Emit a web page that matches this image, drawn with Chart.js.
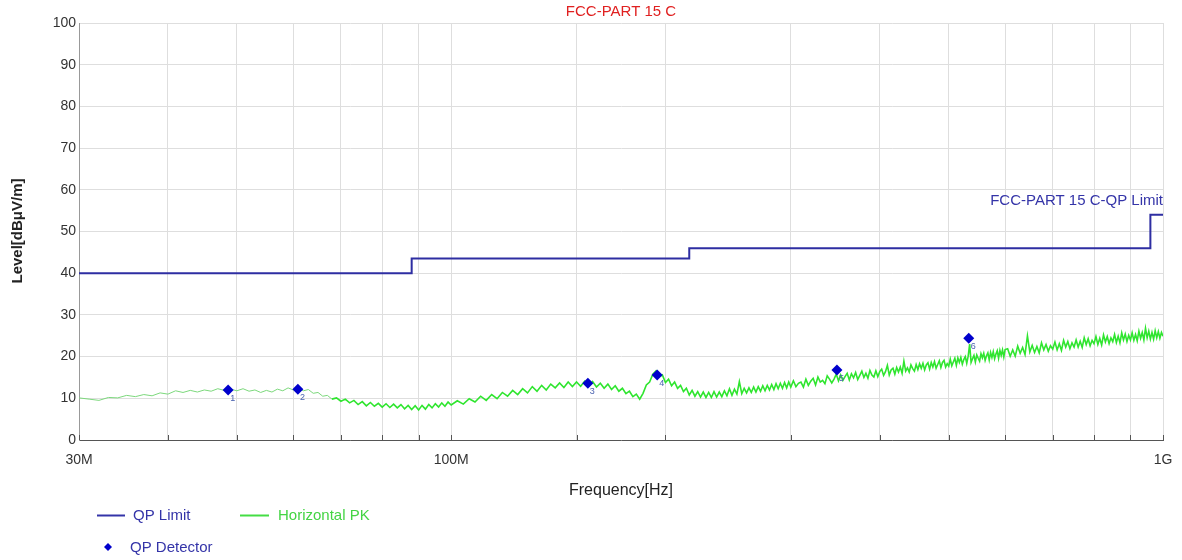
<!DOCTYPE html>
<html>
<head>
<meta charset="utf-8">
<title>FCC-PART 15 C</title>
<script src="https://cdn.jsdelivr.net/npm/chart.js@4.4.1/dist/chart.umd.min.js"></script>
<style>
  html, body { margin: 0; padding: 0; background: #fff; }
  #wrap { width: 1182px; height: 560px; }
</style>
</head>
<body>
<div id="wrap"><canvas id="emiChart" width="1182" height="560"></canvas></div>
<script>
// sweep frequencies in MHz
const freqMHz = [
  30, 31, 32, 33, 34, 35, 36, 37, 38, 39, 40, 41, 42, 43, 44, 45, 46, 47, 48, 49,
  50, 51, 52, 53, 54, 55, 56, 57, 58, 59, 60, 61, 62, 63, 64, 65, 66, 67, 68, 69,
  70, 71, 72, 73, 74, 75, 76, 77, 78, 79, 80, 81, 82, 83, 84, 85, 86, 87, 88, 89,
  90, 91, 92, 93, 94, 95, 96, 97, 98, 99, 100,
  102, 104, 106, 108, 110, 112, 114, 116, 118, 120, 122, 124, 126, 128, 130, 132, 134, 136, 138, 140,
  142, 144, 146, 148, 150, 152, 154, 156, 158, 160, 162, 164, 166, 168, 170, 172, 174, 176, 178, 180,
  182, 184, 186, 188, 190, 192, 194, 196, 198, 200, 202, 204, 206, 208, 210, 212, 214, 216, 218, 220,
  222, 224, 226, 228, 230, 232, 234, 236, 238, 240, 242, 244, 246, 248, 250, 252, 254, 256, 258, 260,
  262, 264, 266, 268, 270, 272, 274, 276, 278, 280, 282, 284, 286, 288, 290, 292, 294, 296, 298, 300,
  302.5, 305, 307.5, 310, 312.5, 315, 317.5, 320, 322.5, 325, 327.5, 330, 332.5, 335, 337.5, 340, 342.5, 345, 347.5, 350,
  352.5, 355, 357.5, 360, 362.5, 365, 367.5, 370, 372.5, 375, 377.5, 380, 382.5, 385, 387.5, 390, 392.5, 395, 397.5, 400,
  402.5, 405, 407.5, 410, 412.5, 415, 417.5, 420, 422.5, 425, 427.5, 430, 432.5, 435, 437.5, 440, 442.5, 445, 447.5, 450,
  452.5, 455, 457.5, 460, 462.5, 465, 467.5, 470, 472.5, 475, 477.5, 480, 482.5, 485, 487.5, 490, 492.5, 495, 497.5, 500,
  502.5, 505, 507.5, 510, 512.5, 515, 517.5, 520, 522.5, 525, 527.5, 530, 532.5, 535, 537.5, 540, 542.5, 545, 547.5, 550,
  552.5, 555, 557.5, 560, 562.5, 565, 567.5, 570, 572.5, 575, 577.5, 580, 582.5, 585, 587.5, 590, 592.5, 595, 597.5, 600,
  605, 610, 615, 620, 625, 630, 635, 640, 645, 650, 655, 660, 665, 670, 675, 680, 685, 690, 695, 700,
  705, 710, 715, 720, 725, 730, 735, 740, 745, 750, 755, 760, 765, 770, 775, 780, 785, 790, 795, 800,
  805, 810, 815, 820, 825, 830, 835, 840, 845, 850, 855, 860, 865, 870, 875, 880, 885, 890, 895, 900,
  905, 910, 915, 920, 925, 930, 935, 940, 945, 950, 955, 960, 965, 970, 975, 980, 985, 990, 995, 1000
];

// Horizontal PK level, dBuV/m
const pkLevel = [
  10.1, 9.8, 9.5, 10.2, 10.1, 10.7, 10.4, 10.9, 10.6, 11.3, 11.0, 11.8, 11.4, 11.9, 11.5, 12.0, 11.7, 12.3, 11.9, 12.2,
  11.8, 12.3, 11.7, 12.0, 11.4, 11.9, 11.5, 12.2, 11.8, 12.5, 12.0, 12.4, 11.8, 12.1, 11.2, 11.4, 10.5, 10.7, 9.8, 10.1,
  9.3, 9.8, 8.9, 9.5, 8.5, 9.2, 8.2, 9.0, 8.1, 8.8, 7.9, 8.7, 7.8, 8.6, 7.7, 8.5, 7.5, 8.3, 7.3, 8.2,
  7.2, 8.3, 7.4, 8.5, 7.7, 8.7, 7.9, 8.9, 8.1, 9.1, 8.4,
  9.4, 8.6, 9.9, 9.1, 10.5, 9.5, 10.9, 9.9, 11.4, 10.5, 11.9, 10.9, 12.3, 11.3, 12.8, 11.7, 13.1, 12.0, 13.4, 12.5,
  13.7, 12.6, 13.9, 12.8, 13.9, 12.9, 14.1, 13.0, 14.0, 12.7, 13.6, 12.4, 13.4, 12.1, 13.0, 11.7, 12.4, 11.1, 11.7, 10.4,
  11.0, 9.8, 11.2, 13.2, 13.9, 15.8, 16.6, 15.2, 15.6, 13.8, 14.6, 13.0, 13.9, 12.4, 13.1, 11.6, 12.4, 10.8, 11.9, 10.5,
  11.6, 10.3, 11.5, 10.2, 11.4, 10.2, 11.6, 10.3, 11.5, 10.4, 11.8, 10.6, 12.3, 10.7, 12.2, 11.0, 14.0, 11.1, 12.4, 11.3,
  12.5, 11.4, 12.7, 11.5, 12.8, 11.7, 13.0, 11.8, 13.1, 12.0, 13.3, 12.1, 13.5, 12.3, 13.6, 12.4, 13.8, 12.5, 13.9, 12.7,
  14.2, 12.8, 13.6, 13.9, 12.7, 14.6, 13.1, 14.1, 14.8, 13.2, 15.1, 13.9, 14.3, 13.5, 15.4, 14.6, 13.7, 14.6, 15.8, 14.2,
  15.6, 14.3, 15.2, 16.0, 14.4, 15.9, 14.9, 16.2, 14.5, 15.5, 16.5, 15.0, 16.0, 14.8, 16.7, 15.6, 15.1, 16.6, 15.2, 16.4,
  17.0, 15.5, 16.4, 17.9, 15.6, 16.8, 17.2, 15.8, 17.4, 16.3, 17.5, 16.0, 18.9, 16.5, 17.3, 16.3, 18.0, 17.1, 16.5, 18.1,
  16.9, 18.3, 17.2, 18.4, 16.8, 18.0, 18.5, 17.0, 18.6, 17.5, 18.8, 17.2, 18.1, 19.0, 17.4, 18.6, 19.1, 17.5, 18.3, 17.7,
  19.4, 17.8, 18.7, 19.6, 17.9, 19.7, 18.6, 19.8, 18.2, 19.3, 20.0, 18.4, 20.1, 23.0, 18.6, 19.5, 20.3, 18.7, 20.4, 19.6,
  18.9, 20.7, 19.7, 20.8, 19.1, 20.2, 20.9, 19.2, 21.0, 19.8, 21.2, 19.5, 20.6, 21.4, 19.6, 21.5, 20.3, 21.6, 19.9, 21.7,
  21.9, 20.1, 21.6, 20.1, 22.5, 20.8, 22.2, 20.5, 25.0, 21.1, 22.7, 21.0, 22.4, 20.9, 23.3, 21.6, 22.9, 21.3, 22.6, 21.8,
  23.5, 21.6, 23.1, 21.5, 23.9, 22.3, 23.6, 21.9, 23.3, 22.3, 24.0, 22.3, 23.7, 22.2, 24.5, 22.9, 24.3, 22.6, 23.9, 23.1,
  24.8, 22.9, 24.4, 22.8, 25.2, 23.5, 24.8, 23.1, 24.5, 23.6, 25.3, 23.4, 24.9, 23.3, 25.7, 24.0, 25.4, 23.6, 25.1, 24.0,
  25.7, 23.9, 25.3, 23.8, 26.1, 24.4, 25.8, 24.0, 26.8, 24.5, 26.1, 24.2, 25.8, 24.2, 26.2, 24.5, 26.0, 24.4, 25.8, 24.9
];

// QP limit (step line)
const limitFreq = [30, 88, 88, 216, 216, 960, 960, 1000];
const limitLevel = [40, 40, 43.5, 43.5, 46, 46, 54, 54];

// QP detector readings
const qpFreq = [48.6, 60.9, 155.6, 194.7, 348.3, 533.5];
const qpLevel = [12.0, 12.2, 13.6, 15.6, 16.8, 24.4];
const qpLabels = ['1', '2', '3', '4', '5', '6'];

const xTickLabels = { 30: '30M', 100: '100M', 1000: '1G' };

const FONT = '"Liberation Sans", Arial, sans-serif';

function toPoints(xs, ys) {
    return xs.map((x, i) => ({ x: x, y: ys[i] }));
}

// titles, legend, marker numbers and tick marks
const decorations = {
    id: 'decorations',
    afterDatasetsDraw(chart) {
        const ctx = chart.ctx;
        const area = chart.chartArea;
        const xs = chart.scales.x;
        const ys = chart.scales.y;
        ctx.save();

        // small ticks on the bottom axis, pointing up
        ctx.strokeStyle = '#555';
        ctx.lineWidth = 1;
        xs.ticks.forEach(t => {
            const px = Math.round(xs.getPixelForValue(t.value)) + 0.5;
            ctx.beginPath();
            ctx.moveTo(px, area.bottom);
            ctx.lineTo(px, area.bottom - 5);
            ctx.stroke();
        });

        // marker numbers
        ctx.font = '9px ' + FONT;
        ctx.fillStyle = '#4a62b0';
        ctx.textAlign = 'left';
        ctx.textBaseline = 'top';
        qpFreq.forEach((f, i) => {
            const px = xs.getPixelForValue(f);
            const py = ys.getPixelForValue(qpLevel[i]);
            ctx.fillText(qpLabels[i], px + 2, py + 4);
        });
        ctx.restore();
    },
    afterDraw(chart) {
        const ctx = chart.ctx;
        const area = chart.chartArea;
        const ys = chart.scales.y;
        ctx.save();
        ctx.font = '15px ' + FONT;
        ctx.textBaseline = 'middle';

        // title
        ctx.fillStyle = '#e02020';
        ctx.textAlign = 'center';
        ctx.fillText('FCC-PART 15 C', (area.left + area.right) / 2, 12);

        // limit label
        ctx.fillStyle = '#3434a8';
        ctx.textAlign = 'right';
        ctx.fillText('FCC-PART 15 C-QP Limit', area.right, ys.getPixelForValue(54) - 14);

        // axis titles
        ctx.fillStyle = '#222';
        ctx.textAlign = 'center';
        ctx.font = '16px ' + FONT;
        ctx.fillText('Frequency[Hz]', (area.left + area.right) / 2, 491);
        ctx.save();
        ctx.translate(18, 231);
        ctx.rotate(-Math.PI / 2);
        ctx.font = 'bold 15px ' + FONT;
        ctx.fillText('Level[dB\u03bcV/m]', 0, 0);
        ctx.restore();

        // legend
        ctx.font = '15px ' + FONT;
        ctx.lineWidth = 2;
        ctx.strokeStyle = '#3434a8';
        ctx.beginPath();
        ctx.moveTo(97, 515.5);
        ctx.lineTo(125, 515.5);
        ctx.stroke();
        ctx.strokeStyle = '#44dd44';
        ctx.beginPath();
        ctx.moveTo(240, 515.5);
        ctx.lineTo(269, 515.5);
        ctx.stroke();

        ctx.fillStyle = '#0000cc';
        ctx.beginPath();
        ctx.moveTo(108, 543);
        ctx.lineTo(112, 547);
        ctx.lineTo(108, 551);
        ctx.lineTo(104, 547);
        ctx.closePath();
        ctx.fill();

        ctx.textAlign = 'left';
        ctx.fillStyle = '#3434a8';
        ctx.fillText('QP Limit', 133, 516);
        ctx.fillText('QP Detector', 130, 548);
        ctx.fillStyle = '#44d444';
        ctx.fillText('Horizontal PK', 278, 516);
        ctx.restore();
    }
};

document.addEventListener('DOMContentLoaded', function() {
    const ctx = document.getElementById('emiChart').getContext('2d');

    const config = {
        type: 'line',
        data: {
            datasets: [
                {
                    label: 'QP Detector',
                    type: 'scatter',
                    data: toPoints(qpFreq, qpLevel),
                    pointStyle: 'rectRot',
                    pointRadius: 5.5,
                    backgroundColor: '#0000cc',
                    borderColor: '#0000cc',
                    borderWidth: 0,
                    order: 0
                },
                {
                    label: 'QP Limit',
                    data: toPoints(limitFreq, limitLevel),
                    borderColor: '#2e2ea2',
                    borderWidth: 2,
                    pointRadius: 0,
                    tension: 0,
                    order: 1
                },
                {
                    label: 'Horizontal PK',
                    data: toPoints(freqMHz, pkLevel),
                    borderColor: '#2fe52f',
                    borderWidth: 1.6,
                    pointRadius: 0,
                    tension: 0,
                    segment: {
                        borderColor: c => c.p0.parsed.x < 68 ? '#7cd87c' : '#2fe52f',
                        borderWidth: c => c.p0.parsed.x < 68 ? 1 : 1.6
                    },
                    order: 2
                }
            ]
        },
        options: {
            responsive: false,
            animation: false,
            layout: { padding: { top: 23, right: 19, left: 0, bottom: 0 } },
            plugins: {
                legend: { display: false },
                tooltip: { enabled: false },
                title: { display: false }
            },
            scales: {
                x: {
                    type: 'logarithmic',
                    min: 30,
                    max: 1000,
                    afterFit: scale => {
                        scale.height = 120;
                        scale.paddingLeft = 0;
                        scale.paddingRight = 0;
                    },
                    border: { color: '#555', width: 1 },
                    grid: { color: '#dedede', drawTicks: false },
                    ticks: {
                        autoSkip: false,
                        maxRotation: 0,
                        padding: 12,
                        color: '#333',
                        font: { family: FONT, size: 14 },
                        callback: value => xTickLabels[value] || ''
                    }
                },
                y: {
                    min: 0,
                    max: 100,
                    afterFit: scale => { scale.width = 79; },
                    border: { color: '#999', width: 1 },
                    grid: { color: '#dedede', drawTicks: false },
                    ticks: {
                        stepSize: 10,
                        padding: 3,
                        color: '#333',
                        font: { family: FONT, size: 14 }
                    }
                }
            }
        },
        plugins: [decorations]
    };

    const emiChart = new Chart(ctx, config);
});
</script>
</body>
</html>
